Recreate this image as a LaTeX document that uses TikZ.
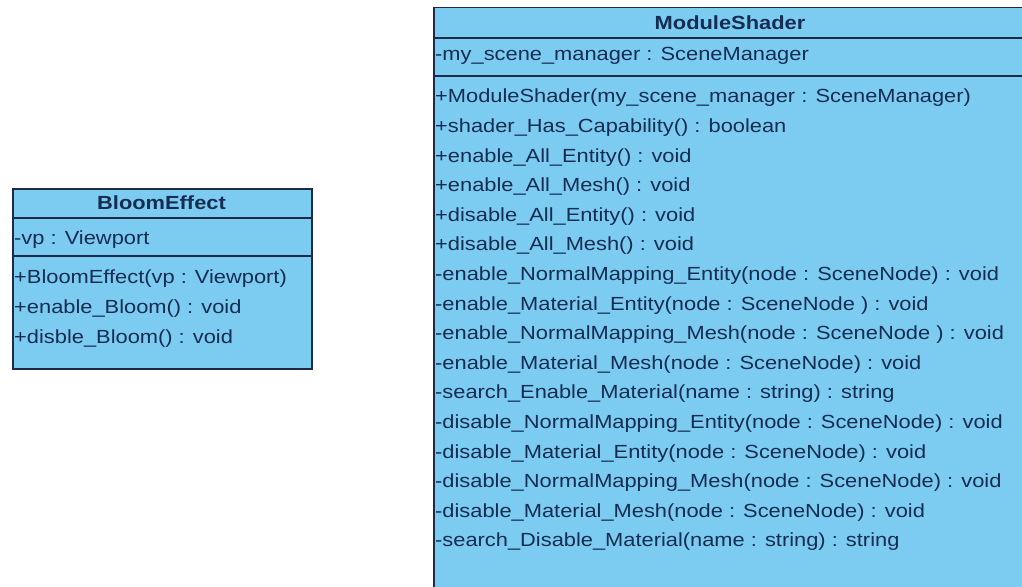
\documentclass[tikz,border=0pt]{standalone}
\usepackage{fontspec}
\setmainfont{Liberation Sans}[FakeStretch=1.15]
\definecolor{classfill}{RGB}{124,204,242}
\definecolor{classline}{RGB}{30,42,72}
\definecolor{classtext}{RGB}{22,44,80}

\begin{document}
\begin{tikzpicture}[x=1pt, y=-1pt,
    classbox/.style={draw=classline, line width=1.5pt, fill=classfill, anchor=north west, inner sep=0pt},
    sep/.style={draw=classline, line width=1.5pt},
    title/.style={font=\fontsize{19}{22}\selectfont\bfseries, text=classtext, inner sep=0pt},
    member/.style={anchor=west, font=\fontsize{19}{22}\selectfont, text=classtext, inner sep=0pt}
]
\useasboundingbox (0,0) rectangle (1022,586);
\fill[white] (0,0) rectangle (1022,586);
\clip (0,0) rectangle (1022,586);

\node[classbox, minimum width=299pt, minimum height=180pt] (bloom) at (12,188) {};
\draw[sep] (bloom.north west) ++(0,30) -- ++(299,0);
\draw[sep] (bloom.north west) ++(0,68) -- ++(299,0);
\node[title] (bloom-title) at (161.5,203) {BloomEffect};
\node[member] (bloom-vp) at (14,239.5) {-vp : Viewport};
\foreach \op [count=\i from 0] in {
    +BloomEffect(vp : Viewport),
    +enable\_Bloom() : void,
    +disble\_Bloom() : void}
  \node[member] (bloom-op\i) at (14,{279+30*\i}) {\op};

\node[classbox, minimum width=594pt, minimum height=600pt] (shader) at (433,7) {};
\draw[sep] (shader.north west) ++(0,31) -- ++(594,0);
\draw[sep] (shader.north west) ++(0,69) -- ++(594,0);
\node[title] (shader-title) at (730,22.5) {ModuleShader};
\node[member] (shader-mgr) at (435,56) {-my\_scene\_manager : SceneManager};
\foreach \op [count=\i from 0] in {
    +ModuleShader(my\_scene\_manager : SceneManager),
    +shader\_Has\_Capability() : boolean,
    +enable\_All\_Entity() : void,
    +enable\_All\_Mesh() : void,
    +disable\_All\_Entity() : void,
    +disable\_All\_Mesh() : void,
    -enable\_NormalMapping\_Entity(node : SceneNode) : void,
    -enable\_Material\_Entity(node : SceneNode ) : void,
    -enable\_NormalMapping\_Mesh(node : SceneNode ) : void,
    -enable\_Material\_Mesh(node : SceneNode) : void,
    -search\_Enable\_Material(name : string) : string,
    -disable\_NormalMapping\_Entity(node : SceneNode) : void,
    -disable\_Material\_Entity(node : SceneNode) : void,
    -disable\_NormalMapping\_Mesh(node : SceneNode) : void,
    -disable\_Material\_Mesh(node : SceneNode) : void,
    -search\_Disable\_Material(name : string) : string}
  \node[member] (shader-op\i) at (435,{98+29.6*\i}) {\op};
\end{tikzpicture}
\end{document}
